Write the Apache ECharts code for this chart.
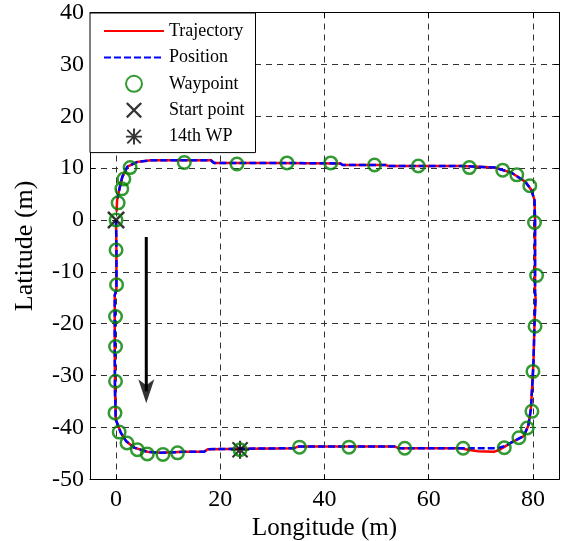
<!DOCTYPE html>
<html><head><meta charset="utf-8">
<script src="https://cdn.jsdelivr.net/npm/echarts@6/dist/echarts.min.js"></script>
<style>html,body{margin:0;padding:0;background:#fff}#c{width:563px;height:541px}</style>
</head><body><div id="c"></div>
<script>
// ---- data ----
const xRange = [-5, 85];
const yRange = [-50, 40];
const yInterval = 10;
const legendNames = ['Trajectory', 'Position', 'Waypoint', 'Start point', '14th WP'];

const trajectory = [
  [0,0],[0.07,-6],[0.07,-13.5],[-0.25,-14.5],[-0.25,-25],[-0.2,-33],[-0.06,-38.5],[0.3,-39.4],
  [0.9,-41.0],[1.9,-42.6],[3.5,-43.9],[6.0,-44.7],[8.6,-44.9],[13.1,-44.7],[16.9,-44.7],[17.6,-44.2],
  [25,-44.1],[34.2,-44.0],[34.9,-43.7],[45,-43.7],[53.5,-43.7],[54.2,-44.0],[66.3,-44.0],[67.5,-44.3],
  [69.5,-44.6],[72.5,-44.7],[73.6,-44.3],[74.6,-43.7],[75.9,-42.9],[78.2,-41.7],[79.1,-39.7],[79.6,-36.5],
  [79.9,-31.3],[80.1,-27.5],[80.3,-19.8],[80.5,-15],[80.4,-14],[80.4,-5],[80.4,0],[80.3,3.8],
  [79.7,5.8],[78.5,7.4],[75.9,9.1],[72.7,10.1],[66.3,10.4],[60,10.4],[52.2,10.4],[51.8,10.6],
  [43.5,10.6],[43,10.9],[30,11.0],[18.8,11.0],[18.2,11.5],[6.7,11.5],[4.1,11.2],[2.2,10.3],
  [1.2,8.3],[0.6,5.8],[0.2,3.8],[0.1,1.6]
];
const position = [
  [0,0],[0.07,-6],[0.07,-13.5],[-0.25,-14.5],[-0.25,-25],[-0.2,-33],[-0.06,-38.5],[0.3,-39.4],
  [0.9,-41.0],[1.9,-42.6],[3.5,-43.9],[6.0,-44.7],[8.6,-44.9],[13.1,-44.7],[16.9,-44.7],[17.6,-44.2],
  [25,-44.1],[34.2,-44.0],[34.9,-43.7],[45,-43.7],[53.5,-43.7],[54.2,-44.0],[66.3,-44.0],[73.2,-44.0],
  [74.6,-43.6],[75.9,-42.9],[78.2,-41.7],[79.1,-39.7],[79.6,-36.5],
  [79.9,-31.3],[80.1,-27.5],[80.3,-19.8],[80.5,-15],[80.4,-14],[80.4,-5],[80.4,0],[80.3,3.8],
  [79.7,5.8],[78.5,7.4],[75.9,9.1],[72.7,10.1],[66.3,10.4],[60,10.4],[52.2,10.4],[51.8,10.6],
  [43.5,10.6],[43,10.9],[30,11.0],[18.8,11.0],[18.2,11.5],[6.7,11.5],[4.1,11.2],[2.2,10.3],
  [1.2,8.3],[0.6,5.8],[0.3,4.2]
];
const waypoints = [
  [0,0],[0,-5.8],[0.1,-12.5],[-0.1,-18.6],[-0.1,-24.4],[-0.1,-31.1],[-0.2,-37.2],[0.6,-40.9],
  [2.1,-43.0],[4.1,-44.3],[6.0,-45.1],[9.0,-45.2],[11.8,-44.9],[23.8,-44.3],[35.2,-43.8],[44.7,-43.8],
  [55.4,-44.0],[66.6,-44.0],[74.5,-43.9],[77.3,-42.0],[78.9,-40.1],[79.8,-36.9],[80.0,-29.2],[80.4,-20.5],
  [80.7,-10.7],[80.3,-0.5],[79.4,6.6],[76.9,8.7],[74.2,9.6],[67.8,10.1],[58.0,10.4],[49.6,10.6],
  [41.2,11.0],[32.8,11.0],[23.2,10.8],[13.1,11.1],[2.7,10.1],[1.5,7.9],[1.1,6.0],[0.4,3.3]
];
const startPoint = [[0, 0]];
const wp14 = [[23.8, -44.3]];
const arrowShaft = [[5.8, -3.3], [5.8, -33.0]];
const arrowHead = [[5.8, -33.0]];

// ---- chart ----
const FONT = 'Liberation Serif';
const X_PATH = 'path://M0,1L1,0L5,4L9,0L10,1L6,5L10,9L9,10L5,6L1,10L0,9L4,5Z';
const STAR_PATH = 'path://M4.4,0L5.6,0L5.6,10L4.4,10Z M0,4.4L10,4.4L10,5.6L0,5.6Z M1.2,0.4L9.6,8.8L8.8,9.6L0.4,1.2Z M8.8,0.4L9.6,1.2L1.2,9.6L0.4,8.8Z';
const HEAD_PATH = 'path://M0,0L5,5L10,0L5,20Z';

const frameAxis = (pos) => ({
  type: 'value', position: pos,
  axisLine: { show: true, onZero: false, lineStyle: { color: '#000', width: 1 } },
  axisTick: { show: true, inside: true, length: 5, lineStyle: { color: '#000', width: 1 } },
  axisLabel: { show: false }, splitLine: { show: false }
});

const chart = echarts.init(document.getElementById('c'), null, { renderer: 'canvas' });
chart.setOption({
  animation: false,
  backgroundColor: '#fff',
  grid: { left: 90, right: 4, top: 12.5, bottom: 61.7, containLabel: false, outerBoundsMode: 'none' },
  legend: {
    data: [
      { name: legendNames[0], itemStyle: { opacity: 0 } },
      { name: legendNames[1], itemStyle: { opacity: 0 } },
      legendNames[2], legendNames[3], legendNames[4]
    ],
    orient: 'vertical', left: 90, top: 13,
    itemWidth: 60, itemHeight: 16, itemGap: 8.4,
    padding: [9, 11, 7, 13],
    borderColor: '#000', borderWidth: 1, borderRadius: 0, backgroundColor: '#fff',
    selectedMode: false,
    textStyle: { fontFamily: FONT, fontSize: 18, color: '#000' }
  },
  xAxis: [
    {
      type: 'value', min: xRange[0], max: xRange[1], position: 'bottom',
      axisLine: { show: true, onZero: false, lineStyle: { color: '#000', width: 1 } },
      axisTick: { show: true, inside: true, length: 5, lineStyle: { color: '#000', width: 1 } },
      axisLabel: { show: true, color: '#000', fontFamily: FONT, fontSize: 24, margin: 8, showMinLabel: false, showMaxLabel: false },
      splitLine: { show: true, lineStyle: { color: '#333', width: 1, type: [6, 5] } },
      name: 'Longitude (m)', nameLocation: 'middle', nameGap: 37,
      nameTextStyle: { fontFamily: FONT, fontSize: 25, color: '#000' }
    },
    Object.assign(frameAxis('top'), { min: xRange[0], max: xRange[1] })
  ],
  yAxis: [
    {
      type: 'value', min: yRange[0], max: yRange[1], interval: yInterval, position: 'left',
      axisLine: { show: true, onZero: false, lineStyle: { color: '#000', width: 1 } },
      axisTick: { show: true, inside: true, length: 5, lineStyle: { color: '#000', width: 1 } },
      axisLabel: { show: true, color: '#000', fontFamily: FONT, fontSize: 24, margin: 6, padding: [8, 0, 0, 0] },
      splitLine: { show: true, lineStyle: { color: '#333', width: 1, type: [6, 5] } },
      name: 'Latitude (m)', nameLocation: 'middle', nameGap: 52,
      nameTextStyle: { fontFamily: FONT, fontSize: 26, color: '#000' }
    },
    Object.assign(frameAxis('right'), { min: yRange[0], max: yRange[1], interval: yInterval })
  ],
  series: [
    {
      name: legendNames[0], type: 'line', data: trajectory, symbol: 'none', z: 3,
      lineStyle: { color: '#ff0000', width: 2.5 }, itemStyle: { color: '#ff0000' }
    },
    {
      name: legendNames[1], type: 'line', data: position, symbol: 'none', z: 4,
      lineStyle: { color: '#0000ff', width: 2.5, type: [7, 3] }, itemStyle: { color: '#0000ff' }
    },
    {
      name: legendNames[2], type: 'scatter', data: waypoints, symbol: 'circle', symbolSize: 12.5, z: 6,
      itemStyle: { color: 'rgba(0,0,0,0)', borderColor: '#008000', borderWidth: 2.5 }
    },
    {
      name: legendNames[3], type: 'scatter', data: startPoint, symbol: X_PATH, symbolSize: 18, z: 5,
      itemStyle: { color: '#000' }
    },
    {
      name: legendNames[4], type: 'scatter', data: wp14, symbol: STAR_PATH, symbolSize: 18, z: 5,
      itemStyle: { color: '#000' }
    },
    {
      name: 'arrow', type: 'line', data: arrowShaft, symbol: 'none', z: 5, silent: true,
      lineStyle: { color: '#000', width: 3 }
    },
    {
      name: 'arrowHead', type: 'scatter', data: arrowHead, symbol: HEAD_PATH, symbolSize: [16, 24], z: 5, silent: true,
      itemStyle: { color: '#000' }
    }
  ]
});
</script>
</body></html>
